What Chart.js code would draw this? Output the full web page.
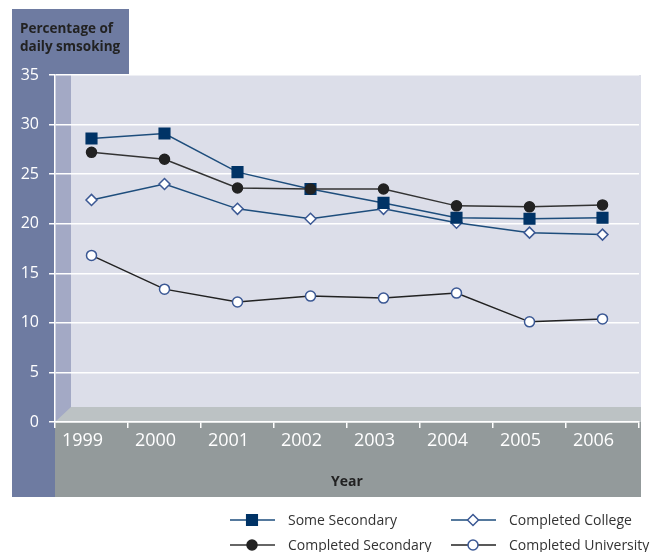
<!DOCTYPE html>
<html>
<head>
<meta charset="utf-8">
<script src="https://cdn.jsdelivr.net/npm/chart.js@4/dist/chart.umd.min.js"></script>
<style>
  html, body { margin: 0; padding: 0; background: #fff; }
  #wrap { width: 657px; height: 552px; }
</style>
</head>
<body>
<div id="wrap"><canvas id="chart" width="657" height="552"></canvas></div>
<script>
// smoking rates by education level
const years = ['1999', '2000', '2001', '2002', '2003', '2004', '2005', '2006'];
const someSecondary = [28.6, 29.1, 25.2, 23.5, 22.1, 20.6, 20.5, 20.6];
const completedSecondary = [27.2, 26.5, 23.6, 23.5, 23.5, 21.8, 21.7, 21.9];
const completedCollege = [22.4, 24.0, 21.5, 20.5, 21.5, 20.1, 19.1, 18.9];
const completedUniversity = [16.8, 13.4, 12.1, 12.7, 12.5, 13.0, 10.1, 10.4];
const yTicks = [0, 5, 10, 15, 20, 25, 30, 35];

const FONT = "'Open Sans', sans-serif";
const NAVY = '#003366';
const NAVY_LINE = '#1d4d7c';
const DARK = '#222222';
const RING = '#3b5894';

// panels, 3d wall/floor and the title box
const backdrop = {
    id: 'backdrop',
    beforeDraw(chart) {
        const { ctx, chartArea: a } = chart;
        ctx.save();
        ctx.fillStyle = '#6e7ba1';
        ctx.fillRect(12, 9, 117, a.top - 9);
        ctx.fillRect(12, 9, a.left - 12, 488);

        ctx.fillStyle = '#939a9b';
        ctx.fillRect(a.left, a.bottom, a.right - a.left + 2, 75);

        ctx.fillStyle = '#dcdee9';
        ctx.fillRect(a.left, a.top, a.right - a.left + 2, a.bottom - a.top);

        ctx.fillStyle = '#a3a9c5';
        ctx.fillRect(a.left, a.top, 16, a.bottom - a.top);

        ctx.fillStyle = '#bcc2c4';
        ctx.beginPath();
        ctx.moveTo(a.left, a.bottom);
        ctx.lineTo(a.left + 16, a.bottom - 15);
        ctx.lineTo(a.right + 2, a.bottom - 15);
        ctx.lineTo(a.right + 2, a.bottom);
        ctx.closePath();
        ctx.fill();

        ctx.fillStyle = DARK;
        ctx.font = `bold 13.5px ${FONT}`;
        ctx.textBaseline = 'alphabetic';
        ctx.textAlign = 'left';
        ctx.fillText('Percentage of', 20, 33);
        ctx.fillText('daily smsoking', 20, 51);
        ctx.restore();
    },
    afterDraw(chart) {
        // legend: line through marker, two columns
        const { ctx } = chart;
        const slots = [
            { ds: 0, x: 230, y: 520 },
            { ds: 1, x: 230, y: 545 },
            { ds: 2, x: 451, y: 520 },
            { ds: 3, x: 451, y: 545 },
        ];
        ctx.save();
        ctx.font = `14px ${FONT}`;
        ctx.textBaseline = 'middle';
        ctx.textAlign = 'left';
        for (const s of slots) {
            const d = chart.data.datasets[s.ds];
            ctx.strokeStyle = d.borderColor;
            ctx.lineWidth = 1.5;
            ctx.beginPath();
            ctx.moveTo(s.x, s.y);
            ctx.lineTo(s.x + 45, s.y);
            ctx.stroke();
            ctx.fillStyle = d.pointBackgroundColor;
            ctx.strokeStyle = d.pointBorderColor;
            ctx.lineWidth = d.pointBorderWidth;
            Chart.helpers.drawPoint(ctx, {
                pointStyle: d.pointStyle,
                radius: d.pointRadius,
                rotation: 0,
                borderWidth: d.pointBorderWidth,
            }, s.x + 22, s.y);
            ctx.fillStyle = '#333333';
            ctx.fillText(d.label, s.x + 58, s.y + 1);
        }
        ctx.restore();
    },
};

function series(label, data, line, style, radius, fill, ring, order) {
    return {
        label, data, order,
        borderColor: line,
        borderWidth: 1.5,
        tension: 0,
        pointStyle: style,
        pointRadius: radius,
        pointBackgroundColor: fill,
        pointBorderColor: ring,
        pointBorderWidth: 1.5,
    };
}

new Chart(document.getElementById('chart'), {
    type: 'line',
    data: {
        labels: years,
        datasets: [
            series('Some Secondary', someSecondary, NAVY_LINE, 'rect', 7.5, NAVY, NAVY, 1),
            series('Completed Secondary', completedSecondary, '#333333', 'circle', 5, DARK, DARK, 0),
            series('Completed College', completedCollege, NAVY_LINE, 'rectRot', 5.5, '#ffffff', RING, 2),
            series('Completed University', completedUniversity, DARK, 'circle', 5, '#ffffff', RING, 3),
        ],
    },
    options: {
        responsive: false,
        animation: false,
        devicePixelRatio: 1,
        layout: { padding: { left: 0, top: 75, right: 18, bottom: 55 } },
        plugins: {
            legend: { display: false },
            tooltip: { enabled: false },
        },
        scales: {
            x: {
                offset: true,
                afterFit: (s) => { s.height = 75; },
                grid: {
                    offset: true,
                    drawOnChartArea: false,
                    color: '#ffffff',
                    lineWidth: 1.5,
                    tickLength: 6,
                },
                border: { color: '#ffffff', width: 1.5 },
                ticks: {
                    color: '#ffffff',
                    font: { family: FONT, size: 18 },
                    labelOffset: -9,
                    padding: 2,
                },
                title: {
                    display: true,
                    text: 'Year',
                    color: DARK,
                    font: { family: FONT, size: 14, weight: 'bold' },
                    padding: { top: 4, bottom: 7 },
                },
            },
            y: {
                min: 0,
                max: 35,
                afterFit: (s) => { s.width = 55; },
                afterBuildTicks: (s) => { s.ticks = yTicks.map(v => ({ value: v })); },
                grid: {
                    color: '#ffffff',
                    lineWidth: 1.5,
                    tickLength: 6,
                },
                border: { color: '#ffffff', width: 1.5 },
                ticks: {
                    color: '#ffffff',
                    font: { family: FONT, size: 16 },
                    padding: 10,
                },
            },
        },
    },
    plugins: [backdrop],
});
</script>
</body>
</html>
